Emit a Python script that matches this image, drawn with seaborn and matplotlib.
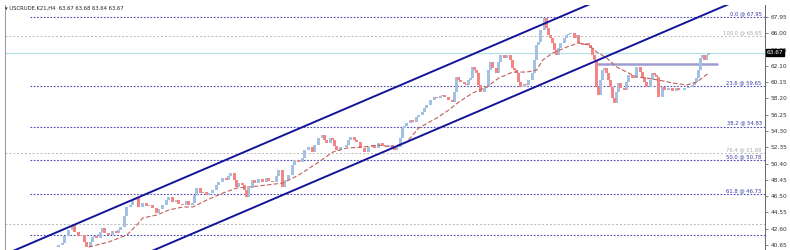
import numpy as np
import pandas as pd
import matplotlib
matplotlib.use("Agg")
import matplotlib.pyplot as plt
import seaborn as sns

# ---------------- data ----------------
bars = [27, 29, 30, 32, 34, 35, 37, 38, 40, 41, 43, 44, 45, 46, 48, 49, 50, 52, 54, 56,
        57, 58, 60, 61, 63, 64, 66, 67, 69, 71, 72, 74, 76, 77, 79, 81, 82, 84, 86, 87,
        89, 91, 92, 94, 95, 96, 98, 99, 101, 102, 104, 106, 107, 109, 111, 112, 113, 115, 116, 117,
        119, 120, 121, 122, 124, 125, 127, 129, 131, 132, 134, 136, 137, 139, 140, 142, 144, 145, 147, 149,
        150, 152, 154, 155, 157, 159, 160, 161, 163, 164, 165, 166, 168, 171, 172, 173, 175, 176, 178, 180,
        182, 184, 185, 187, 189, 191, 192, 194, 195, 196, 198, 199, 200, 201, 203, 204, 206, 207, 209, 210,
        211, 213, 215, 216, 218, 219, 220, 222, 224, 225, 226, 227, 228, 230, 231, 232, 233, 234, 235, 236,
        237, 238, 240, 241, 242, 243, 244, 246, 247, 248, 250, 251, 253, 254, 255, 256, 257, 258, 260, 261,
        262, 264, 265, 266, 267, 268, 270, 271, 272, 273, 274, 275, 276, 277, 278, 280, 281, 282, 283, 285,
        286, 287, 289, 291, 292, 293, 294, 295, 296, 297, 298, 299, 300, 301, 302, 303, 304, 305, 306, 307,
        308, 310, 311, 312, 314, 315, 316, 318, 319, 320, 321, 323, 324, 325, 326, 327, 329, 330, 332, 334,
        336, 337, 339, 340, 342, 344, 345, 346, 347, 348, 349, 350, 351, 352, 353]
closes = [40.65, 40.89, 41.72, 42.44, 43.04, 42.20, 41.72, 41.84, 41.01, 40.41, 41.01, 41.60, 41.72, 41.48, 42.20, 42.68, 42.08, 41.84, 42.32, 42.08,
          42.44, 42.80, 44.12, 45.20, 45.44, 46.03, 46.27, 45.20, 45.68, 45.32, 45.44, 45.08, 44.48, 44.96, 45.44, 46.03, 46.39, 45.80, 46.03, 45.56,
          45.44, 45.92, 45.44, 45.68, 46.63, 47.47, 46.87, 46.99, 46.63, 46.87, 47.23, 47.83, 48.19, 48.67, 48.43, 48.91, 49.27, 48.43, 47.59, 48.07,
          47.83, 47.23, 46.39, 47.47, 48.43, 48.07, 48.55, 48.19, 48.67, 48.31, 48.19, 48.91, 49.63, 47.59, 48.43, 49.03, 50.22, 50.82, 50.58, 51.06,
          52.02, 52.38, 51.78, 52.62, 53.46, 53.82, 53.22, 52.86, 53.46, 53.22, 52.50, 52.02, 52.38, 52.62, 53.22, 53.58, 53.22, 52.98, 52.26, 51.78,
          52.38, 52.62, 52.26, 52.86, 52.50, 52.38, 52.62, 52.26, 52.02, 52.38, 53.46, 54.66, 54.90, 55.25, 55.61, 55.37, 55.97, 56.21, 56.57, 57.05,
          57.41, 58.01, 58.37, 58.25, 58.49, 58.61, 58.37, 58.01, 57.77, 58.97, 60.76, 60.40, 60.16, 59.93, 59.81, 60.40, 60.64, 61.96, 61.60, 61.24,
          59.81, 58.97, 59.45, 59.57, 61.60, 62.56, 61.84, 61.24, 62.56, 63.40, 63.04, 63.40, 62.80, 61.84, 61.60, 61.24, 60.16, 59.57, 59.93, 59.81,
          60.40, 61.24, 62.80, 64.60, 64.96, 66.39, 67.83, 66.63, 65.79, 65.43, 64.84, 64.00, 63.40, 64.24, 64.84, 65.43, 65.79, 65.91, 66.03, 65.43,
          65.79, 64.84, 64.60, 64.84, 64.60, 64.24, 63.40, 62.80, 59.57, 58.61, 60.40, 61.60, 61.84, 61.24, 60.40, 59.57, 58.25, 57.65, 58.97, 60.05,
          59.45, 59.21, 60.16, 61.00, 60.64, 60.76, 61.96, 61.36, 60.76, 60.16, 59.57, 60.40, 61.24, 61.00, 60.76, 58.37, 59.57, 59.21, 59.45, 59.09,
          59.45, 59.21, 59.21, 59.45, 59.57, 59.81, 60.16, 60.64, 61.60, 63.04, 63.40, 62.80, 63.40, 63.64, 63.67]
first_open = 40.40

ma_bars = [42, 52, 61, 66, 69, 76, 82, 89, 94, 101, 109, 116, 122, 131, 139, 147, 157, 164, 171, 179,
           187, 194, 201, 207, 216, 222, 227, 234, 241, 247, 254, 261, 266, 269, 274, 281, 287, 292, 296, 301,
           306, 311, 316, 321, 327, 334, 341, 346, 352]
ma_vals = [40.41, 41.01, 41.84, 43.04, 43.88, 44.24, 44.84, 45.20, 45.20, 46.03, 46.87, 47.47, 47.59, 47.83, 48.07, 49.03, 50.58, 51.78, 52.26, 52.38,
           52.62, 52.38, 52.98, 54.66, 55.85, 56.81, 57.77, 58.85, 59.57, 60.64, 61.36, 61.36, 61.60, 62.80, 63.64, 64.36, 64.84, 64.60, 63.76, 63.04,
           61.96, 61.36, 60.76, 60.64, 60.40, 60.05, 59.81, 60.16, 61.24]

# channel lines: (bar, price) endpoints
upper_channel = [(0, 39.51), (380, 78.46)]
lower_channel = [(0, 32.39), (380, 71.34)]

fib_levels = [67.95, 65.65, 59.65, 54.83, 51.68, 50.78, 46.73, 43.16, 41.84]
fib_names = ["0.0 @ 67.95", "100.0 @ 65.65", "23.6 @ 59.65", "38.2 @ 54.83", "76.4 @ 51.68",
             "50.0 @ 50.78", "61.8 @ 46.73", "", ""]
fib_kind = ["main", "grey", "main", "main", "grey", "main", "main", "grey", "main"]

resist_level = 62.32
resist_span = (296, 356)
last_price = 63.67
yticks = [40.65, 42.60, 44.55, 46.50, 48.45, 50.40, 52.35, 54.30, 56.25, 58.20, 60.15, 62.10, 64.05, 66.00, 67.95]
title = "USCRUDE.K21,H4  63.67 63.68 63.64 63.67"

# ---------------- plot ----------------
sns.set_style("white")
plt.rcParams['font.family'] = ['DejaVu Sans']

fig = plt.figure(figsize=(7.9, 2.5), dpi=100)
ax = fig.add_axes([0.006, 0.0, 0.962, 0.98])

XMIN, XMAX = 0, 380
YMIN, YMAX = 40.05, 69.39
ax.set_xlim(XMIN, XMAX)
ax.set_ylim(YMIN, YMAX)

# fib lines
for lvl, name, kind in zip(fib_levels, fib_names, fib_kind):
    if kind == "main":
        ax.axhline(lvl, xmin=0.033, color="#4a4ab8", lw=0.8, ls=(0, (1.5, 1.5)), zorder=1)
        col = "#3a3aa8"
    else:
        ax.axhline(lvl, color="#b8b8b8", lw=0.7, ls=(0, (2, 2)), zorder=1)
        col = "#a8a8a8"
    if name:
        ax.text(378.5, lvl + 0.12, name, ha="right", va="bottom", fontsize=3.8, color=col, zorder=3)

# current price line
ax.axhline(last_price, color="#b8e0ea", lw=0.9, zorder=1)

# resistance segment
ax.plot(resist_span, [resist_level, resist_level], color="#8c8cc8", lw=1.8, alpha=0.85, zorder=2)

# candles
opens = [first_open] + closes[:-1]
df = pd.DataFrame({"bar": bars, "open": opens, "close": closes})
df["bottom"] = df[["open", "close"]].min(axis=1)
df["height"] = (df["close"] - df["open"]).abs().clip(lower=0.06)
up = df["close"] >= df["open"]
ax.bar(df.loc[up, "bar"], df.loc[up, "height"], bottom=df.loc[up, "bottom"], width=1.3,
       color="#a3c1e2", edgecolor="none", zorder=3)
ax.bar(df.loc[~up, "bar"], df.loc[~up, "height"], bottom=df.loc[~up, "bottom"], width=1.3,
       color="#f48585", edgecolor="none", zorder=3)

# moving average (dashed)
ma_df = pd.DataFrame({"bar": ma_bars, "ma": ma_vals})
sns.lineplot(data=ma_df, x="bar", y="ma", ax=ax, color="#c0605a", lw=0.8,
             linestyle=(0, (4, 2)), zorder=4, legend=False)

# channel lines
for ch in (upper_channel, lower_channel):
    ax.plot([p[0] for p in ch], [p[1] for p in ch], color="#14149a", lw=1.4, zorder=5)

# axes styling
ax.yaxis.tick_right()
ax.set_yticks(yticks)
ax.set_yticklabels([f"{v:.2f}" for v in yticks], fontsize=4.2, color="#333333")
ax.tick_params(axis="y", length=2, width=0.5, pad=2, color="#555555")
ax.set_xticks([])
ax.set_xlabel("")
ax.set_ylabel("")
for s in ("top", "bottom"):
    ax.spines[s].set_visible(False)
ax.spines["right"].set_color("#666666")
ax.spines["right"].set_linewidth(0.7)
ax.spines["left"].set_color("#888888")
ax.spines["left"].set_linewidth(0.6)

# current price tag (drawn over the 64.05 tick label, as in the terminal)
ax.text(1.003, (last_price - YMIN) / (YMAX - YMIN), f"{last_price:.2f}", transform=ax.transAxes,
        ha="left", va="center", fontsize=4.2, color="white",
        bbox=dict(boxstyle="square,pad=0.15", fc="black", ec="black"), zorder=10, clip_on=False)

# title
fig.text(0.006, 0.965, "\u25BE " + title, ha="left", va="center", fontsize=3.8, color="#222222")

fig.savefig("out.png", dpi=100)
